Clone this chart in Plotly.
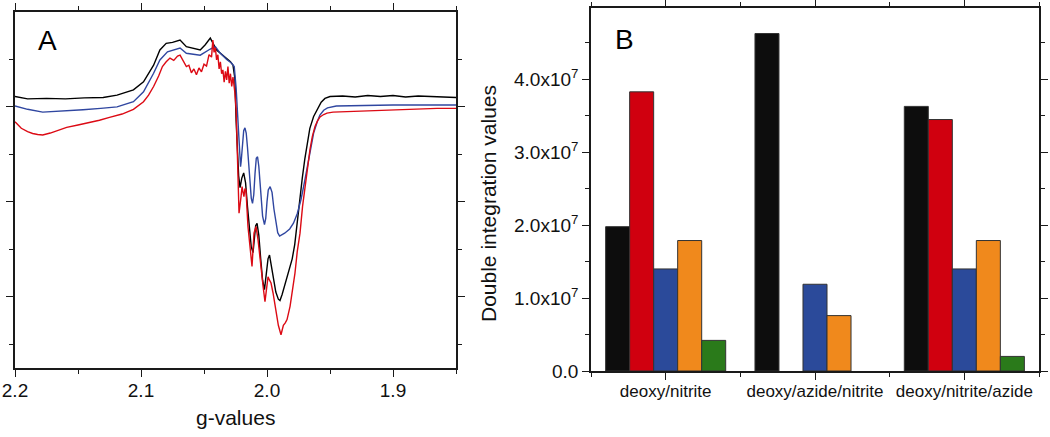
import plotly.graph_objects as go

# ---------------- Panel A: EPR spectra (g-values vs intensity, arbitrary units) -------------
g_black = [2.200, 2.190, 2.175, 2.160, 2.145, 2.130, 2.119, 2.106, 2.098, 2.090, 2.085, 2.080,
           2.075, 2.069, 2.064, 2.059, 2.053, 2.049, 2.045, 2.040, 2.035, 2.029, 2.027, 2.0255,
           2.0245, 2.0235, 2.0225, 2.0214, 2.0200, 2.0185, 2.0170, 2.0155, 2.0140, 2.0125,
           2.0111, 2.0100, 2.0090, 2.0079, 2.0065, 2.0050, 2.0035, 2.0020, 2.0005, 1.9992,
           1.9980, 1.9965, 1.9950, 1.9930, 1.9910, 1.9897, 1.9880, 1.9860, 1.9840, 1.9820,
           1.9800, 1.9780, 1.9760, 1.9740, 1.9720, 1.9700, 1.9680, 1.9660, 1.9630, 1.9600,
           1.9570, 1.9540, 1.9500, 1.9400, 1.9300, 1.9200, 1.9100, 1.9000, 1.8900, 1.8800,
           1.8700, 1.8600, 1.8500]
y_black = [0.22, 0.17, 0.18, 0.17, 0.19, 0.20, 0.25, 0.36, 0.53, 0.88, 1.20, 1.34,
           1.36, 1.41, 1.27, 1.24, 1.20, 1.31, 1.45, 1.20, 1.09, 0.95, 0.88, 0.60,
           -0.30, -0.90, -1.45, -1.70, -1.50, -1.39, -1.60, -2.10, -2.60, -2.95,
           -3.07, -2.80, -2.50, -2.45, -2.70, -3.20, -3.65, -3.85, -3.55, -3.20,
           -3.12, -3.35, -3.65, -3.90, -4.05, -4.08, -3.95, -3.75, -3.60, -3.40,
           -3.20, -2.90, -2.40, -1.95, -1.50, -1.10, -0.75, -0.45, -0.20, -0.05,
           0.10, 0.18, 0.22, 0.23, 0.21, 0.24, 0.22, 0.24, 0.21, 0.23,
           0.22, 0.21, 0.20]

g_blue = [2.200, 2.190, 2.178, 2.160, 2.146, 2.132, 2.119, 2.106, 2.098, 2.090, 2.085, 2.079,
          2.069, 2.064, 2.053, 2.045, 2.041, 2.037, 2.032, 2.028, 2.026, 2.0245, 2.0235,
          2.0225, 2.0215, 2.0210, 2.0205, 2.0195, 2.0185, 2.0175, 2.0165, 2.0155, 2.0145,
          2.0135, 2.0125, 2.0115, 2.0105, 2.0095, 2.0085, 2.0075, 2.0065, 2.0055, 2.0045,
          2.0035, 2.0020, 2.0010, 2.0000, 1.9990, 1.9975, 1.9960, 1.9945, 1.9930, 1.9915,
          1.9900, 1.9860, 1.9820, 1.9790, 1.9760, 1.9730, 1.9700, 1.9680, 1.9650, 1.9630,
          1.9600, 1.9580, 1.9550, 1.9520, 1.9450, 1.9300, 1.9000, 1.8700, 1.8500]
y_blue = [0.02, -0.05, -0.11, -0.09, -0.06, -0.03, 0.00, 0.11, 0.32, 0.71, 0.99, 1.16,
          1.24, 1.13, 1.09, 1.22, 1.27, 1.13, 1.00, 0.92, 0.85, 0.40, -0.10,
          -0.60, -1.10, -1.26, -1.15, -0.75, -0.50, -0.44, -0.55, -0.85, -1.25,
          -1.65, -1.92, -2.03, -1.85, -1.40, -1.08, -1.05, -1.25, -1.60, -1.98,
          -2.30, -2.48, -2.35, -2.00, -1.75, -1.68, -1.80, -2.15, -2.45, -2.65,
          -2.72, -2.66, -2.57, -2.45, -2.25, -1.95, -1.55, -1.25, -0.80, -0.55,
          -0.30, -0.17, -0.07, -0.02, 0.02, 0.03, 0.04, 0.04, 0.04]

g_red = [2.200, 2.195, 2.190, 2.186, 2.182, 2.178, 2.172, 2.166, 2.159, 2.150, 2.140, 2.133,
         2.125, 2.115, 2.106, 2.102, 2.098, 2.094, 2.090, 2.086, 2.083, 2.080, 2.077, 2.074,
         2.071, 2.069, 2.066, 2.064, 2.062, 2.060, 2.058, 2.056, 2.054, 2.052, 2.050, 2.048,
         2.046, 2.044, 2.043, 2.042, 2.041, 2.040, 2.039, 2.038, 2.037, 2.036, 2.035, 2.034,
         2.033, 2.032, 2.031, 2.030, 2.029, 2.028, 2.027, 2.0255, 2.0245, 2.0235, 2.0222,
         2.0206, 2.0198, 2.0190, 2.0183, 2.0175, 2.0167, 2.0151, 2.0135, 2.0119, 2.0103,
         2.0087, 2.0071, 2.0060, 2.0048, 2.0030, 2.0016, 2.0000, 1.9992, 1.9980, 1.9968,
         1.9952, 1.9930, 1.9910, 1.9889, 1.9870, 1.9855, 1.9841, 1.9817, 1.9800, 1.9778,
         1.9760, 1.9738, 1.9718, 1.9698, 1.9680, 1.9659, 1.9640, 1.9619, 1.9600, 1.9579,
         1.9550, 1.9524, 1.9476, 1.9300, 1.9206, 1.9000, 1.8800, 1.8650, 1.8500]
y_red = [-0.31, -0.45, -0.52, -0.56, -0.58, -0.59, -0.55, -0.50, -0.43, -0.38, -0.33, -0.28,
         -0.22, -0.15, -0.05, 0.03, 0.11, 0.25, 0.43, 0.65, 0.85, 0.95, 1.03, 0.98,
         1.07, 1.09, 0.95, 0.85, 0.88, 0.72, 0.80, 0.68, 0.82, 0.74, 0.90, 0.86,
         1.10, 1.05, 1.41, 1.15, 1.25, 0.99, 1.10, 0.80, 0.95, 0.70, 0.78, 0.52,
         0.75, 0.57, 0.85, 0.50, 0.70, 0.43, 0.63, 0.30, -0.06, -1.26, -2.24,
         -1.89, -1.68, -1.80, -1.89, -1.72, -1.75, -2.52, -3.00, -3.36, -2.66,
         -2.52, -2.80, -3.10, -3.36, -3.80, -4.10, -3.75, -3.58, -3.65, -3.71,
         -3.92, -4.30, -4.60, -4.80, -4.60, -4.55, -4.48, -4.20, -3.90, -3.50,
         -3.05, -2.66, -2.10, -1.68, -1.25, -0.90, -0.62, -0.41, -0.30, -0.21,
         -0.16, -0.13, -0.11, -0.09, -0.08, -0.06, -0.04, -0.03, -0.03]

g_ticks = [2.2, 2.1, 2.0, 1.9]
g_tick_labels = ["2.2", "2.1", "2.0", "1.9"]

# ---------------- Panel B: double integration values -------------
categories = ["deoxy/nitrite", "deoxy/azide/nitrite", "deoxy/nitrite/azide"]
vals_black = [1.98e7, 4.63e7, 3.63e7]
vals_red = [3.83e7, None, 3.45e7]
vals_blue = [1.40e7, 1.19e7, 1.40e7]
vals_orange = [1.79e7, 0.76e7, 1.79e7]
vals_green = [0.42e7, None, 0.20e7]
b_ticks = [0, 1e7, 2e7, 3e7, 4e7]
b_tick_labels = ["0.0", "1.0x10<sup>7</sup>", "2.0x10<sup>7</sup>",
                 "3.0x10<sup>7</sup>", "4.0x10<sup>7</sup>"]

FONT = "Liberation Sans, Arial, sans-serif"
AX = "#1a1a1a"

fig = go.Figure()

for g, y, c in [(g_black, y_black, "#000000"), (g_blue, y_blue, "#2f46a0"), (g_red, y_red, "#dc0a14")]:
    fig.add_trace(go.Scatter(x=g, y=y, mode="lines", line=dict(color=c, width=1.4),
                             xaxis="x", yaxis="y", showlegend=False, hoverinfo="skip"))

xpos = list(range(len(categories)))
for vals, c in [(vals_black, "#0d0d0d"), (vals_red, "#d0000f"), (vals_blue, "#2b4a9a"),
                (vals_orange, "#f0891c"), (vals_green, "#2a7a1a")]:
    fig.add_trace(go.Bar(x=xpos, y=vals, marker=dict(color=c, line=dict(color="#333333", width=1)),
                         xaxis="x2", yaxis="y2", showlegend=False))

W, H = 1050, 437
axis_common = dict(showline=True, linecolor=AX, linewidth=1.5, mirror="ticks", ticks="outside",
                   ticklen=7, tickwidth=1.3, tickcolor=AX, showgrid=False, zeroline=False,
                   automargin=False,
                   tickfont=dict(family=FONT, size=19, color="#111111"))

fig.update_layout(
    template="none",
    width=W, height=H,
    margin=dict(l=0, r=0, t=0, b=0, pad=0),
    paper_bgcolor="white", plot_bgcolor="white",
    barmode="group", bargap=0.196, bargroupgap=0,
    showlegend=False,
    xaxis=dict(domain=[15 / W, 456 / W], range=[2.2, 1.85], tickmode="array",
               tickvals=g_ticks, ticktext=g_tick_labels, anchor="y", ticklabelstandoff=-3,
               minor=dict(tickvals=[2.15, 2.05, 1.95, 1.85], ticklen=4, ticks="outside",
                          tickcolor=AX, tickwidth=1.3),
               **axis_common),
    yaxis=dict(domain=[(H - 368) / H, (H - 12) / H], range=[-5.5, 2.0], tickmode="array",
               tickvals=[0, -2, -4], showticklabels=False, anchor="x",
               minor=dict(tickvals=[1, -1, -3, -5], ticklen=4, ticks="outside",
                          tickcolor=AX, tickwidth=1.3),
               **axis_common),
    xaxis2=dict(domain=[591 / W, 1039 / W], range=[-0.5, 2.5], tickmode="array",
                tickvals=xpos, ticktext=categories, anchor="y2", ticklabelstandoff=-3,
                minor=dict(tickvals=[-0.5, 0.5, 1.5, 2.5], ticklen=4, ticks="outside",
                           tickcolor=AX, tickwidth=1.3),
                **{**axis_common, "tickfont": dict(family=FONT, size=17, color="#111111")}),
    yaxis2=dict(domain=[(H - 371) / H, (H - 8) / H], range=[0, 4.98e7], tickmode="array",
                tickvals=b_ticks, ticktext=b_tick_labels, anchor="x2",
                minor=dict(tickvals=[0.5e7, 1.5e7, 2.5e7, 3.5e7, 4.5e7], ticklen=4,
                           ticks="outside", tickcolor=AX, tickwidth=1.3),
                **axis_common),
    annotations=[
        dict(text="A", x=47 / W, y=(H - 40) / H, xref="paper", yref="paper", showarrow=False,
             font=dict(family=FONT, size=28, color="#000000"), xanchor="center", yanchor="middle"),
        dict(text="B", x=624 / W, y=(H - 39) / H, xref="paper", yref="paper", showarrow=False,
             font=dict(family=FONT, size=28, color="#000000"), xanchor="center", yanchor="middle"),
        dict(text="g-values", x=235.5 / W, y=(H - 417) / H, xref="paper", yref="paper",
             showarrow=False, font=dict(family=FONT, size=21, color="#111111"),
             xanchor="center", yanchor="middle"),
        dict(text="Double integration values", x=488 / W, y=(H - 204) / H, xref="paper",
             yref="paper", showarrow=False, textangle=-90,
             font=dict(family=FONT, size=21, color="#111111"),
             xanchor="center", yanchor="middle"),
    ],
)

fig.write_html("out.html", config={"displayModeBar": False},
               post_script="document.body.style.margin='0';document.body.style.overflow='hidden';")
